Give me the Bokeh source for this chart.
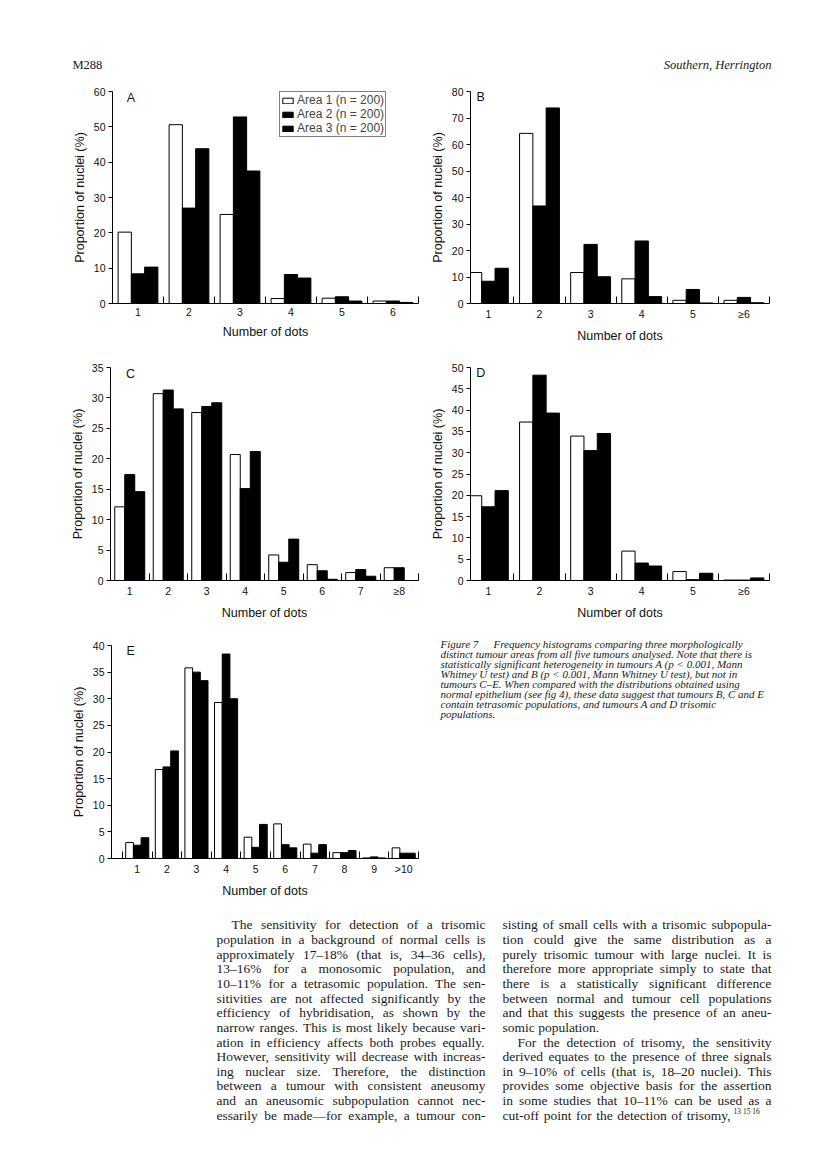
from bokeh.plotting import figure
from bokeh.layouts import column, row
from bokeh.models import Range1d, FixedTicker, Legend, LegendItem, Label, ColumnDataSource
from bokeh.embed import file_html
from bokeh.resources import INLINE
from bokeh.core.properties import value

SANS = "Liberation Sans"
SERIF = "Liberation Serif"

# ---------------- data ----------------
legend_labels = ["Area 1 (n = 200)", "Area 2 (n = 200)", "Area 3 (n = 200)"]

cats_A = ["1", "2", "3", "4", "5", "6"]
a1_A = [20.2, 50.6, 25.2, 1.4, 1.5, 0.7]
a2_A = [8.4, 27.0, 52.8, 8.2, 1.9, 0.7]
a3_A = [10.3, 43.8, 37.5, 7.2, 0.7, 0.3]

cats_B = ["1", "2", "3", "4", "5", "\u22656"]
a1_B = [11.7, 64.2, 11.7, 9.3, 1.2, 1.2]
a2_B = [8.4, 36.8, 22.3, 23.6, 5.3, 2.3]
a3_B = [13.3, 73.8, 10.1, 2.6, 0.2, 0.3]

cats_C = ["1", "2", "3", "4", "5", "6", "7", "\u22658"]
a1_C = [12.1, 30.7, 27.6, 20.7, 4.2, 2.6, 1.3, 2.1]
a2_C = [17.4, 31.3, 28.6, 15.1, 3.0, 1.6, 1.8, 2.1]
a3_C = [14.6, 28.2, 29.2, 21.2, 6.8, 0.2, 0.7, 0.0]

cats_D = ["1", "2", "3", "4", "5", "\u22656"]
a1_D = [19.9, 37.2, 33.9, 6.9, 2.1, 0.1]
a2_D = [17.3, 48.2, 30.5, 4.1, 0.2, 0.1]
a3_D = [21.1, 39.3, 34.5, 3.4, 1.7, 0.6]

cats_E = ["1", "2", "3", "4", "5", "6", "7", "8", "9", ">10"]
a1_E = [3.0, 16.7, 35.8, 29.3, 4.0, 6.5, 2.7, 1.1, 0.1, 2.0]
a2_E = [2.5, 17.2, 35.0, 38.4, 2.1, 2.6, 1.0, 1.1, 0.3, 1.0]
a3_E = [3.9, 20.2, 33.4, 30.0, 6.4, 2.0, 2.6, 1.5, 0.1, 1.0]

header_left = "M288"
header_right = "Southern, Herrington"

caption_lead = "Figure 7"
caption_lines = [
    "Frequency histograms comparing three morphologically",
    "distinct tumour areas from all five tumours analysed. Note that there is",
    "statistically significant heterogeneity in tumours A (p < 0.001, Mann",
    "Whitney U test) and B (p < 0.001, Mann Whitney U test), but not in",
    "tumours C\u2013E. When compared with the distributions obtained using",
    "normal epithelium (see fig 4), these data suggest that tumours B, C and E",
    "contain tetrasomic populations, and tumours A and D trisomic",
    "populations.",
]

left_col = [
    "The sensitivity for detection of a trisomic",
    "population in a background of normal cells is",
    "approximately 17\u201318% (that is, 34\u201336 cells),",
    "13\u201316% for a monosomic population, and",
    "10\u201311% for a tetrasomic population. The sen-",
    "sitivities are not affected significantly by the",
    "efficiency of hybridisation, as shown by the",
    "narrow ranges. This is most likely because vari-",
    "ation in efficiency affects both probes equally.",
    "However, sensitivity will decrease with increas-",
    "ing nuclear size. Therefore, the distinction",
    "between a tumour with consistent aneusomy",
    "and an aneusomic subpopulation cannot nec-",
    "essarily be made\u2014for example, a tumour con-",
]
right_col = [
    "sisting of small cells with a trisomic subpopula-",
    "tion could give the same distribution as a",
    "purely trisomic tumour with large nuclei. It is",
    "therefore more appropriate simply to state that",
    "there is a statistically significant difference",
    "between normal and tumour cell populations",
    "and that this suggests the presence of an aneu-",
    "somic population.",
    "For the detection of trisomy, the sensitivity",
    "derived equates to the presence of three signals",
    "in 9\u201310% of cells (that is, 18\u201320 nuclei). This",
    "provides some objective basis for the assertion",
    "in some studies that 10\u201311% can be used as a",
    "cut-off point for the detection of trisomy,",
]
refs = "13 15 16"

# ---------------- helpers ----------------
_TW = {' ': 250, '!': 333, '%': 833, "'": 333, '(': 333, ')': 333, ',': 250, '-': 333, '.': 250,
       '/': 278, ':': 278, ';': 278, '<': 564, '=': 564, '>': 564, '?': 444,
       'A': 722, 'B': 667, 'C': 667, 'D': 722, 'E': 611, 'F': 556, 'G': 722, 'H': 722, 'I': 333,
       'J': 389, 'K': 722, 'L': 611, 'M': 889, 'N': 722, 'O': 722, 'P': 556, 'Q': 722, 'R': 667,
       'S': 556, 'T': 611, 'U': 722, 'V': 722, 'W': 944, 'X': 722, 'Y': 722, 'Z': 611,
       'a': 444, 'b': 500, 'c': 444, 'd': 500, 'e': 444, 'f': 333, 'g': 500, 'h': 500, 'i': 278,
       'j': 278, 'k': 500, 'l': 278, 'm': 778, 'n': 500, 'o': 500, 'p': 500, 'q': 500, 'r': 333,
       's': 389, 't': 278, 'u': 500, 'v': 500, 'w': 722, 'x': 500, 'y': 500, 'z': 444,
       '\u2013': 500, '\u2014': 1000}


def tw(s, size):
    return sum(_TW.get(ch, 500) for ch in s) / 1000.0 * size


def blank(w, h):
    p = figure(width=w, height=h, x_range=Range1d(0, w), y_range=Range1d(h, 0),
               output_backend="svg", toolbar_location=None, min_border=0,
               x_axis_location=None, y_axis_location=None)
    p.grid.visible = False
    p.outline_line_color = None
    p.background_fill_color = "white"
    p.border_fill_color = "white"
    return p


def justified(p, lines, x0, y0, lh, width, size, indents, no_justify):
    xs, ys, ts = [], [], []
    for i, line in enumerate(lines):
        words = line.split(" ")
        ind = 15 if i in indents else 0
        x = x0 + ind
        y = y0 + i * lh
        if i in no_justify or len(words) < 2:
            gap = tw(" ", size)
        else:
            tot = sum(tw(w, size) for w in words)
            gap = max((width - ind - tot) / (len(words) - 1), 0.2 * size)
        for w in words:
            xs.append(x)
            ys.append(y)
            ts.append(w)
            x += tw(w, size) + gap
    p.text(x=xs, y=ys, text=ts, text_font=value(SERIF), text_font_size=value(f"{size}px"),
           text_baseline="middle", text_align="left", text_color="#1a1a1a")


def panel(cats, s1, s2, s3, ymax, ystep, xstart, w, h, bl, br, bt, bb, letter, lx, ly, legend=False):
    n = len(cats)
    p = figure(width=w, height=h, x_range=Range1d(xstart, n + 0.5), y_range=Range1d(0, ymax),
               output_backend="svg", toolbar_location=None,
               min_border_left=bl, min_border_right=br, min_border_top=bt, min_border_bottom=bb)
    p.grid.visible = False
    p.outline_line_color = None
    pos = list(range(1, n + 1))
    bw = 0.26
    rs = []
    for off, vals, fill in ((-bw, s1, "white"), (0.0, s2, "black"), (bw, s3, "black")):
        src = ColumnDataSource(dict(x=[q + off for q in pos], top=vals))
        rs.append(p.vbar(x="x", top="top", bottom=0, width=bw, source=src,
                         fill_color=fill, line_color="black", line_width=1))
    xa = p.xaxis[0]
    xa.ticker = FixedTicker(ticks=pos, minor_ticks=[k + 0.5 for k in range(0, n + 1)])
    xa.major_label_overrides = {q: c for q, c in zip(pos, cats)}
    xa.major_tick_in = 0
    xa.major_tick_out = 0
    xa.minor_tick_in = 7
    xa.minor_tick_out = 0
    xa.major_label_standoff = 4
    xa.axis_label = "Number of dots"
    xa.axis_label_standoff = 6
    ya = p.yaxis[0]
    ya.ticker = FixedTicker(ticks=list(range(0, ymax + 1, ystep)), minor_ticks=[])
    ya.major_tick_in = 0
    ya.major_tick_out = 4
    ya.minor_tick_in = 0
    ya.minor_tick_out = 0
    ya.major_label_standoff = 3
    ya.axis_label = "Proportion of nuclei (%)"
    ya.axis_label_standoff = 4
    for ax in (xa, ya):
        ax.axis_line_color = "black"
        ax.major_tick_line_color = "black"
        ax.minor_tick_line_color = "black"
        ax.major_label_text_font = SANS
        ax.major_label_text_font_size = "10.5px"
        ax.major_label_text_color = "#111111"
        ax.axis_label_text_font = SANS
        ax.axis_label_text_font_size = "12.5px"
        ax.axis_label_text_font_style = "normal"
        ax.axis_label_text_color = "#111111"
    p.add_layout(Label(x=lx, y=ly, text=letter, text_font=SANS, text_font_size="12.5px",
                       text_align="center", text_baseline="middle", text_color="#111111"))
    if legend:
        items = [LegendItem(label=legend_labels[i], renderers=[rs[i]]) for i in range(3)]
        lg = Legend(items=items, location=(167, 166), glyph_width=13, glyph_height=7,
                    label_height=8, label_standoff=3, padding=1, spacing=0, margin=0,
                    label_text_font=SANS, label_text_font_size="12px",
                    border_line_color="black", border_line_width=1,
                    background_fill_color="white", background_fill_alpha=1.0)
        p.add_layout(lg)
    return p


# ---------------- header ----------------
hdr = blank(808, 80)
hdr.text(x=[72], y=[64], text=[header_left], text_font=value(SERIF), text_font_size=value("12.5px"),
         text_baseline="middle", text_align="left", text_color="#1a1a1a")
hdr.text(x=[771], y=[64], text=[header_right], text_font=value(SERIF), text_font_size=value("12.5px"),
         text_font_style="italic", text_baseline="middle", text_align="right", text_color="#1a1a1a")

# ---------------- panels ----------------
pA = panel(cats_A, a1_A, a2_A, a3_A, 60, 10, 0.5, 425, 265, 112, 7, 11, 39, "A", 0.86, 58.2, legend=True)
pB = panel(cats_B, a1_B, a2_B, a3_B, 80, 10, 0.65, 383, 265, 45, 39, 11, 39, "B", 0.85, 77.8)
pC = panel(cats_C, a1_C, a2_C, a3_C, 35, 5, 0.5, 425, 277, 110, 7, 22, 39, "C", 1.02, 34.0)
pD = panel(cats_D, a1_D, a2_D, a3_D, 50, 5, 0.65, 383, 277, 45, 39, 22, 39, "D", 0.85, 48.7)
pE = panel(cats_E, a1_E, a2_E, a3_E, 40, 5, 0.13, 425, 278, 111, 7, 23, 39, "E", 0.78, 38.9)

# ---------------- caption ----------------
cap = blank(383, 278)
cap_size = 11
cap.text(x=[15], y=[21], text=[caption_lead], text_font=value(SERIF), text_font_size=value(f"{cap_size}px"),
         text_font_style="italic", text_baseline="middle", text_align="left", text_color="#1a1a1a")
cx = [68] + [15] * (len(caption_lines) - 1)
cy = [21 + 10.1 * i for i in range(len(caption_lines))]
cap.text(x=cx, y=cy, text=caption_lines, text_font=value(SERIF), text_font_size=value(f"{cap_size}px"),
         text_font_style="italic", text_baseline="middle", text_align="left", text_color="#1a1a1a")

# ---------------- body text ----------------
body = blank(808, 263)
bsize = 13.5
justified(body, left_col, 216, 24.3, 14.65, 269, bsize, indents={0}, no_justify=set())
justified(body, right_col[:-1], 502, 24.3, 14.65, 269, bsize, indents={8}, no_justify={7})
last_y = 24.3 + 14.65 * (len(right_col) - 1)
words = right_col[-1].split(" ")
tot = sum(tw(w, bsize) for w in words)
avail = 269 - 40
gap = (avail - tot) / (len(words) - 1)
xs, x = [], 502
for w in words:
    xs.append(x)
    x += tw(w, bsize) + gap
body.text(x=xs, y=[last_y] * len(words), text=words, text_font=value(SERIF),
          text_font_size=value(f"{bsize}px"), text_baseline="middle", text_align="left", text_color="#1a1a1a")
body.text(x=[x - gap + 2], y=[last_y - 4], text=[refs], text_font=value(SERIF),
          text_font_size=value("7.5px"), text_baseline="middle", text_align="left", text_color="#1a1a1a")

layout = column(hdr, row(pA, pB), row(pC, pD), row(pE, column(cap)), body)

with open("out.html", "w") as f:
    f.write(file_html(layout, INLINE))
